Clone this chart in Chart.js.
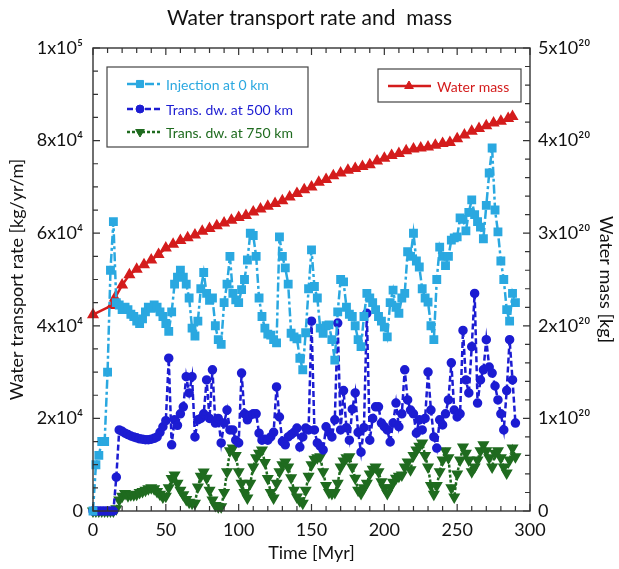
<!DOCTYPE html>
<html>
<head>
<meta charset="utf-8">
<script src="https://cdn.jsdelivr.net/npm/chart.js@4.4.0/dist/chart.umd.min.js"></script>
<style>
  html, body { margin: 0; padding: 0; background: #fff; }
  #wrap { width: 619px; height: 569px; }
</style>
</head>
<body>
<div id="wrap"><canvas id="waterChart" width="619" height="569"></canvas></div>
<script>
// time axis for the three transport-rate series [Myr]
const rateTime = [
  0, 2, 4, 6, 8, 10, 12, 14, 16, 18, 20, 22, 24, 26, 28, 30, 32, 34, 36, 38,
  40, 42, 44, 46, 48, 50, 52, 54, 56, 58, 60, 62, 64, 66, 68, 70, 72, 74, 76, 78,
  80, 82, 84, 86, 88, 90, 92, 94, 96, 98, 100, 102, 104, 106, 108, 110, 112, 114, 116, 118,
  120, 122, 124, 126, 128, 130, 132, 134, 136, 138, 140, 142, 144, 146, 148, 150, 152, 154, 156, 158,
  160, 162, 164, 166, 168, 170, 172, 174, 176, 178, 180, 182, 184, 186, 188, 190, 192, 194, 196, 198,
  200, 202, 204, 206, 208, 210, 212, 214, 216, 218, 220, 222, 224, 226, 228, 230, 232, 234, 236, 238,
  240, 242, 244, 246, 248, 250, 252, 254, 256, 258, 260, 262, 264, 266, 268, 270, 272, 274, 276, 278,
  280, 282, 284, 286, 288, 290
];

// Injection at 0 km [kg/yr/m]
const injection0 = [
  0, 10000, 12000, 15000, 15000, 30000, 52000, 62500, 45000, 44500, 43500, 44000, 43500, 42500, 42000, 41000, 40500, 41500, 43000, 44000,
  43800, 44500, 44000, 43000, 42000, 40500, 38800, 43000, 49000, 50500, 52000, 50500, 49000, 46000, 39500, 37800, 41000, 48000, 51500, 47000,
  45500, 46000, 40000, 37000, 36000, 45000, 49000, 55000, 47000, 45600, 45000, 47800, 50000, 54200, 60000, 59500, 55000, 46000, 42000, 39500,
  38200, 38000, 37000, 36300, 59200, 55000, 52500, 49000, 38400, 37600, 37200, 33000, 30500, 38500, 48000, 56400, 48500, 46000, 39500, 38400,
  40000, 40200, 37000, 32600, 43000, 50000, 49500, 44000, 42500, 42000, 40000, 37000, 35500, 42000, 47000, 46000, 45000, 43500, 42000, 41000,
  39700, 37600, 45000, 47700, 44000, 42700, 46000, 47000, 56000, 55000, 60000, 54000, 52700, 48000, 46000, 45100, 40000, 37000, 50000, 57000,
  55000, 53000, 55000, 58500, 59000, 59200, 63300, 63000, 60500, 64500, 67200, 64000, 62500, 61300, 58800, 66000, 73000, 78400, 65000, 60300,
  54000, 50000, 43500, 41000, 47000, 45000
];

// Transported downward at 500 km [kg/yr/m]
const transDw500 = [
  0, 0, 0, 0, 0, 0, 0, 0, 7300, 17500, 17200, 16800, 16500, 16200, 16000, 15800, 15600, 15500, 15400, 15400,
  15500, 15700, 16000, 17000, 18200, 19500, 33000, 14300, 19700, 18500, 21000, 22500, 29000, 25500, 29000, 16000, 19700, 20000, 21000, 28300,
  20000, 30500, 19000, 20000, 14700, 19000, 21800, 17500, 17500, 15300, 14700, 29800, 21000, 19700, 20700, 21000, 21000, 16800, 15300, 15500,
  15300, 16000, 17000, 26800, 20300, 15000, 14300, 16000, 16500, 17000, 17900, 13800, 16000, 17900, 17500, 41000, 17500, 14700, 14000, 13200,
  18200, 17000, 16000, 19700, 40600, 17500, 26000, 18000, 15300, 22000, 25500, 17000, 12700, 18000, 42700, 15300, 20000, 22500, 22500, 19000,
  18200, 17500, 14900, 19000, 23300, 18200, 21000, 30500, 24000, 21800, 21000, 16800, 19700, 17500, 20000, 30000, 21800, 16000, 13600, 19700,
  18600, 21000, 24000, 32000, 21800, 20300, 21000, 39000, 28300, 25500, 35500, 47000, 23300, 28300, 30500, 37000, 31100, 29800, 27000, 24000,
  21000, 17500, 26000, 37000, 28300, 19000
];

// Transported downward at 750 km [kg/yr/m]
const transDw750 = [
  0, 0, 0, 0, 0, 0, 0, 0, 500, 2400, 3200, 3800, 3300, 3500, 3500, 3600, 4000, 4200, 4500, 4800,
  5000, 4800, 4200, 3600, 3000, 3200, 5000, 7000, 7800, 6000, 4500, 3500, 2500, 1900, 1700, 1700, 5200, 7500, 8400, 7100,
  4500, 2400, 1200, 900, 900, 4000, 8500, 13000, 13600, 12000, 8500, 6000, 4000, 2800, 6000, 9500, 11500, 12500, 13200, 10500,
  7000, 4000, 2800, 6000, 8500, 10000, 10600, 9500, 7200, 4500, 3000, 2200, 1700, 4500, 7500, 10000, 11200, 11500, 11700, 8500,
  5500, 4000, 3800, 4000, 6000, 9500, 10800, 11500, 11700, 9500, 7100, 4500, 3800, 5000, 6000, 8000, 9000, 9500, 8500, 6300,
  5000, 3800, 5000, 6200, 7100, 7500, 7800, 9500, 10600, 8900, 12000, 13200, 14000, 14700, 12000, 9500, 5500, 3600, 5500, 8500,
  11000, 13000, 11500, 5000, 3000, 8000, 11000, 13800, 12500, 11000, 8500, 9500, 11000, 13000, 14300, 13000, 11500, 9500, 12500, 13000,
  11500, 9500, 8200, 11000, 13600, 11700
];

// water mass [kg], right axis
const massTime = [
  0, 13, 15, 20, 25, 30, 35, 40, 45, 50, 55, 60, 65, 70, 75, 80, 85, 90, 95, 100,
  105, 110, 115, 120, 125, 130, 135, 140, 145, 150, 155, 160, 165, 170, 175, 180, 185, 190, 195, 200,
  205, 210, 215, 220, 225, 230, 235, 240, 245, 250, 255, 260, 265, 270, 275, 280, 285, 288
];
const waterMass = [
  2.12e20, 2.22e20, 2.30e20, 2.44e20, 2.55e20, 2.61e20, 2.66e20, 2.71e20, 2.77e20, 2.84e20,
  2.88e20, 2.92e20, 2.95e20, 2.98e20, 3.02e20, 3.05e20, 3.08e20, 3.11e20, 3.14e20, 3.17e20,
  3.19e20, 3.23e20, 3.26e20, 3.29e20, 3.32e20, 3.35e20, 3.39e20, 3.43e20, 3.47e20, 3.50e20,
  3.55e20, 3.58e20, 3.62e20, 3.65e20, 3.68e20, 3.70e20, 3.72e20, 3.74e20, 3.78e20, 3.81e20,
  3.84e20, 3.86e20, 3.89e20, 3.91e20, 3.92e20, 3.93e20, 3.95e20, 3.97e20, 3.98e20, 4.02e20,
  4.06e20, 4.10e20, 4.13e20, 4.16e20, 4.19e20, 4.21e20, 4.24e20, 4.26e20
];

// axis ticks
const timeTicks = [0, 50, 100, 150, 200, 250, 300];
const rateTicks = [0, 20000, 40000, 60000, 80000, 100000];
const rateTickLabels = ['0', '2x10\u2074', '4x10\u2074', '6x10\u2074', '8x10\u2074', '1x10\u2075'];
const massTicks = [0, 1e20, 2e20, 3e20, 4e20, 5e20];
const massTickLabels = ['0', '1x10\u00b2\u2070', '2x10\u00b2\u2070', '3x10\u00b2\u2070', '4x10\u00b2\u2070', '5x10\u00b2\u2070'];

const FONT = 'Lato, "Open Sans", sans-serif';
const LIGHT_BLUE = '#2aa8e0';
const BLUE = '#1c1cd2';
const GREEN = '#1f6b1f';
const RED = '#d41c1c';

function pairs(xs, ys) {
  return xs.map((x, i) => ({ x: x, y: ys[i] }));
}

// inward tick marks + frame
const frameTicks = {
  id: 'frameTicks',
  afterDatasetsDraw(chart) {
    const { ctx, chartArea: a, scales } = chart;
    ctx.save();
    ctx.setLineDash([]);
    ctx.strokeStyle = '#333';
    ctx.lineWidth = 1.2;
    ctx.beginPath();
    for (let i = 0; i <= 30; i++) {
      const x = scales.x.getPixelForValue(i * 10);
      const len = i % 5 === 0 ? 7 : 5;
      ctx.moveTo(x, a.bottom); ctx.lineTo(x, a.bottom - len);
      ctx.moveTo(x, a.top); ctx.lineTo(x, a.top + len);
    }
    for (let i = 0; i <= 20; i++) {
      const y = scales.y.getPixelForValue(i * 5000);
      const len = i % 4 === 0 ? 7 : 5;
      ctx.moveTo(a.left, y); ctx.lineTo(a.left + len, y);
    }
    for (let i = 0; i <= 25; i++) {
      const y = scales.y2.getPixelForValue(i * 2e19);
      const len = i % 5 === 0 ? 7 : 5;
      ctx.moveTo(a.right, y); ctx.lineTo(a.right - len, y);
    }
    ctx.stroke();
    ctx.lineWidth = 1.4;
    ctx.strokeRect(a.left, a.top, a.right - a.left, a.bottom - a.top);
    ctx.restore();
  }
};

// two boxed legends drawn inside the plot
function drawSample(ctx, ds, x1, x2, y, mx) {
  ctx.save();
  ctx.strokeStyle = ds.borderColor;
  ctx.lineWidth = ds.borderWidth;
  ctx.setLineDash(ds.borderDash || []);
  ctx.beginPath();
  ctx.moveTo(x1, y); ctx.lineTo(x2, y);
  ctx.stroke();
  ctx.setLineDash([]);
  ctx.fillStyle = ds.pointBackgroundColor;
  ctx.strokeStyle = ds.pointBorderColor;
  ctx.lineWidth = 1;
  Chart.helpers.drawPoint(ctx, { pointStyle: ds.pointStyle, rotation: ds.pointRotation || 0, radius: ds.legendRadius, borderWidth: 1 }, mx, y);
  ctx.restore();
}

const boxLegends = {
  id: 'boxLegends',
  afterDraw(chart) {
    const { ctx } = chart;
    const ds = chart.data.datasets;
    ctx.save();
    ctx.fillStyle = '#fff';
    ctx.strokeStyle = '#444';
    ctx.lineWidth = 1.2;
    ctx.fillRect(107, 67, 201, 80);
    ctx.strokeRect(107, 67, 201, 80);
    ctx.fillRect(378, 69, 143, 33);
    ctx.strokeRect(378, 69, 143, 33);
    ctx.font = '14px ' + FONT;
    ctx.textBaseline = 'middle';
    const rows = [[0, 84], [1, 109], [2, 132]];
    rows.forEach(([i, y]) => {
      drawSample(ctx, ds[i], 127, 161, y, 140);
      ctx.fillStyle = ds[i].borderColor;
      ctx.fillText(ds[i].label, 166, y + 1);
    });
    drawSample(ctx, ds[3], 388, 431, 86, 409);
    ctx.fillStyle = ds[3].borderColor;
    ctx.fillText(ds[3].label, 437, 87);
    ctx.restore();
  }
};

const chart = new Chart(document.getElementById('waterChart').getContext('2d'), {
  type: 'line',
  data: {
    datasets: [
      {
        label: 'Injection at 0 km',
        data: pairs(rateTime, injection0),
        yAxisID: 'y',
        borderColor: LIGHT_BLUE,
        pointBackgroundColor: LIGHT_BLUE,
        pointBorderColor: LIGHT_BLUE,
        borderWidth: 2.5,
        borderDash: [9, 3, 3, 3],
        pointStyle: 'rect',
        pointRadius: 4.5,
        legendRadius: 5,
        clip: false
      },
      {
        label: 'Trans. dw. at 500 km',
        data: pairs(rateTime, transDw500),
        yAxisID: 'y',
        borderColor: BLUE,
        pointBackgroundColor: BLUE,
        pointBorderColor: BLUE,
        borderWidth: 2.5,
        borderDash: [6, 3],
        pointStyle: 'circle',
        pointRadius: 3.5,
        legendRadius: 4,
        clip: false
      },
      {
        label: 'Trans. dw. at 750 km',
        data: pairs(rateTime, transDw750),
        yAxisID: 'y',
        borderColor: GREEN,
        pointBackgroundColor: GREEN,
        pointBorderColor: GREEN,
        borderWidth: 2.5,
        borderDash: [3, 2],
        pointStyle: 'triangle',
        pointRotation: 180,
        pointRadius: 4.5,
        legendRadius: 5,
        clip: false
      },
      {
        label: 'Water mass',
        data: pairs(massTime, waterMass),
        yAxisID: 'y2',
        borderColor: RED,
        pointBackgroundColor: RED,
        pointBorderColor: RED,
        borderWidth: 2.5,
        pointStyle: 'triangle',
        pointRadius: 4.5,
        legendRadius: 5,
        clip: false
      }
    ]
  },
  options: {
    responsive: false,
    animation: false,
    events: [],
    layout: { padding: 0 },
    elements: { line: { tension: 0 }, point: { borderWidth: 1 } },
    plugins: {
      legend: { display: false },
      tooltip: { enabled: false },
      title: {
        display: true,
        text: 'Water transport rate and  mass',
        color: '#111',
        font: { family: FONT, size: 21, weight: 'normal' },
        padding: { top: 6, bottom: 16.8 }
      }
    },
    scales: {
      x: {
        type: 'linear',
        min: 0, max: 300,
        grid: { display: false, drawTicks: false },
        border: { display: false },
        afterBuildTicks: s => { s.ticks = timeTicks.map(v => ({ value: v })); },
        afterFit: s => { s.height = 58; },
        ticks: { color: '#111', font: { family: FONT, size: 18 }, padding: 8, maxRotation: 0 },
        title: { display: true, text: 'Time [Myr]', color: '#111', font: { family: FONT, size: 18 }, padding: { bottom: 5 } }
      },
      y: {
        position: 'left',
        min: 0, max: 100000,
        grid: { display: false, drawTicks: false },
        border: { display: false },
        afterBuildTicks: s => { s.ticks = rateTicks.map(v => ({ value: v })); },
        afterFit: s => { s.width = 93; },
        ticks: { color: '#111', font: { family: FONT, size: 18 }, padding: 10, callback: (v, i) => rateTickLabels[i] },
        title: { display: true, text: 'Water transport rate [kg/yr/m]', color: '#111', font: { family: FONT, size: 18 }, padding: { top: 6 } }
      },
      y2: {
        position: 'right',
        min: 0, max: 5e20,
        grid: { display: false, drawTicks: false },
        border: { display: false },
        afterBuildTicks: s => { s.ticks = massTicks.map(v => ({ value: v })); },
        afterFit: s => { s.width = 89; },
        ticks: { color: '#111', font: { family: FONT, size: 18 }, padding: 8, callback: (v, i) => massTickLabels[i] },
        title: { display: true, text: 'Water mass [kg]', color: '#111', font: { family: FONT, size: 18 }, padding: { top: 2 } }
      }
    }
  },
  plugins: [frameTicks, boxLegends]
});
</script>
</body>
</html>
